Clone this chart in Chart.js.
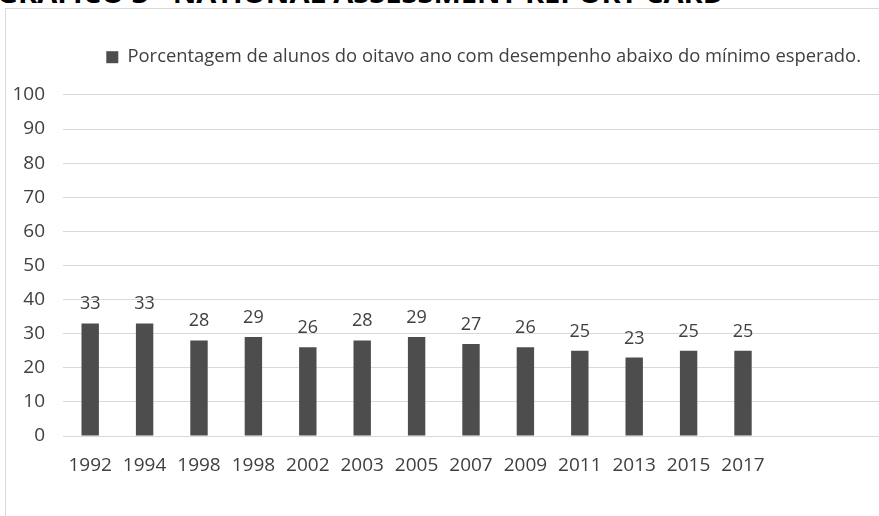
<!DOCTYPE html>
<html>
<head>
<meta charset="utf-8">
<script src="https://cdn.jsdelivr.net/npm/chart.js@4.4.1/dist/chart.umd.min.js"></script>
<style>
  html, body { margin: 0; padding: 0; background: #fff; overflow: hidden; }
  #wrap { position: relative; width: 879px; height: 516px; overflow: hidden; }
  #title {
    position: absolute; left: -3px; top: -23px;
    font: bold 29px "Open Sans", sans-serif; line-height: 29px; color: #000; white-space: nowrap;
  }
  #frame {
    position: absolute; left: 5px; top: 8px; width: 900px; height: 600px;
    border: 1px solid #d9d9d9; box-sizing: border-box;
  }
  #chart { position: absolute; left: 0; top: 0; }
</style>
</head>
<body>
<div id="wrap">
  <div id="title">GRÁFICO 3 - NATIONAL ASSESSMENT REPORT CARD</div>
  <div id="frame"></div>
  <canvas id="chart" width="879" height="516"></canvas>
</div>
<script>
// ── DATA ──
const years = ['1992', '1994', '1998', '1998', '2002', '2003', '2005', '2007', '2009', '2011', '2013', '2015', '2017', '', ''];
const belowMinimum = [33, 33, 28, 29, 26, 28, 29, 27, 26, 25, 23, 25, 25, null, null];
const seriesLabel = 'Porcentagem de alunos do oitavo ano com desempenho abaixo do mínimo esperado.';
const yTicks = [0, 10, 20, 30, 40, 50, 60, 70, 80, 90, 100];

const textColor = '#404040';
const fontFamily = '"Open Sans", sans-serif';

// values above each bar
const barValues = {
  id: 'barValues',
  afterDatasetsDraw(chart) {
    const ctx = chart.ctx;
    const meta = chart.getDatasetMeta(0);
    ctx.save();
    ctx.font = '18px ' + fontFamily;
    ctx.fillStyle = textColor;
    ctx.textAlign = 'center';
    ctx.textBaseline = 'alphabetic';
    meta.data.forEach((bar, i) => {
      const v = belowMinimum[i];
      if (v == null) return;
      ctx.fillText(String(v), bar.x, bar.y - 14);
    });
    ctx.restore();
  }
};

// extra room between the legend and the plot
const legendGap = {
  id: 'legendGap',
  beforeLayout(chart) {
    const lg = chart.legend;
    if (!lg || lg._gapPatched) return;
    const fit = lg.fit;
    lg.fit = function () { fit.call(this); this.height += 18.5; };
    lg._gapPatched = true;
  }
};

new Chart(document.getElementById('chart'), {
  type: 'bar',
  data: {
    labels: years,
    datasets: [{
      label: seriesLabel,
      data: belowMinimum,
      backgroundColor: '#4d4d4d',
      categoryPercentage: 1,
      barPercentage: 0.32
    }]
  },
  options: {
    responsive: false,
    animation: false,
    layout: { padding: { top: 30, left: 0, right: 0, bottom: 0 } },
    plugins: {
      legend: {
        position: 'top',
        align: 'end',
        labels: {
          boxWidth: 12, boxHeight: 12, padding: 18,
          color: textColor,
          font: { family: fontFamily, size: 18.4 }
        }
      },
      tooltip: { enabled: false }
    },
    scales: {
      y: {
        min: 0, max: 100,
        afterFit: s => { s.width = 63; },
        afterBuildTicks: s => { s.ticks = yTicks.map(v => ({ value: v })); },
        grid: { color: '#d9d9d9', drawTicks: false },
        border: { display: false },
        ticks: { color: textColor, padding: 18, font: { family: fontFamily, size: 19 } }
      },
      x: {
        afterFit: s => { s.height = 80; },
        grid: { display: false },
        border: { color: '#d9d9d9' },
        ticks: { color: textColor, padding: 10, maxRotation: 0, autoSkip: false, font: { family: fontFamily, size: 19 } }
      }
    }
  },
  plugins: [barValues, legendGap]
});
</script>
</body>
</html>
